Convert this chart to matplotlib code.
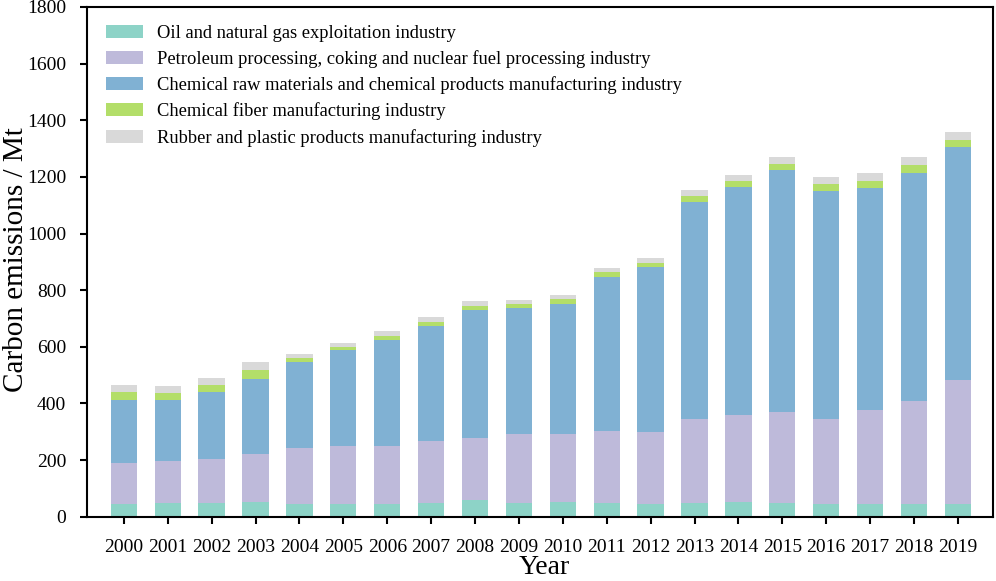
import numpy as np
import matplotlib
matplotlib.use("Agg")
import matplotlib.pyplot as plt

plt.rcParams['font.family'] = ['Liberation Serif', 'DejaVu Serif']

# === Données ===
annees = [str(a) for a in range(2000, 2020)]

petrole_gaz = [45, 48, 50, 52, 45, 45, 46, 47, 58, 50,
               52, 48, 45, 48, 51, 50, 45, 44, 45, 45]
raffinage = [146, 148, 155, 170, 196, 204, 205, 221, 219, 243,
             241, 254, 255, 296, 307, 319, 299, 333, 365, 436]
chimie = [221, 216, 234, 264, 307, 339, 374, 405, 454, 443,
          459, 545, 581, 768, 806, 855, 805, 783, 804, 824]
fibres = [27, 25, 25, 31, 12, 12, 14, 15, 14, 14,
          15, 17, 16, 21, 21, 23, 27, 26, 27, 26]
caoutchouc = [25, 25, 27, 31, 13, 14, 16, 17, 15, 15,
              15, 15, 16, 22, 22, 23, 24, 27, 28, 28]

series = [
    ("Oil and natural gas exploitation industry", petrole_gaz, "#8dd3c7"),
    ("Petroleum processing, coking and nuclear fuel processing industry", raffinage, "#bebada"),
    ("Chemical raw materials and chemical products manufacturing industry", chimie, "#80b1d3"),
    ("Chemical fiber manufacturing industry", fibres, "#b3de69"),
    ("Rubber and plastic products manufacturing industry", caoutchouc, "#d9d9d9"),
]

# === Figure ===
fig = plt.figure(figsize=(9.96, 5.81), dpi=100)
ax = fig.add_axes([0.0873, 0.1107, 0.9097, 0.8773])

x = np.arange(len(annees))
bas = np.zeros(len(annees))
for nom, valeurs, couleur in series:
    ax.bar(x, valeurs, width=0.6, bottom=bas, color=couleur, label=nom)
    bas += np.array(valeurs)

ax.set_xlim(-0.84, 19.8)
ax.set_ylim(0, 1800)
ax.set_yticks(range(0, 1801, 200))
ax.set_xticks(x)
ax.set_xticklabels(annees)
ax.tick_params(axis='both', direction='out', labelsize=14, width=1.5, length=5)
ax.tick_params(axis='x', pad=11)
ax.tick_params(axis='y', pad=10)
for s in ax.spines.values():
    s.set_linewidth(1.5)

# titres des axes placés à la main (positions du modèle)
fig.text(16 / 996, 1 - 260 / 581, "Carbon emissions / Mt", fontsize=21,
         rotation=90, ha='center', va='center')
fig.text(544 / 996, 1 - 574 / 581, "Year", fontsize=20,
         ha='center', va='baseline')

ax.legend(loc='upper left', frameon=False, fontsize=13.3,
          handlelength=2.0, handleheight=0.7, handletextpad=0.76,
          labelspacing=0.45, borderaxespad=0,
          bbox_to_anchor=(11.6 / 906, 1 - 10.4 / 509.7))

fig.savefig("out.png", dpi=100)
